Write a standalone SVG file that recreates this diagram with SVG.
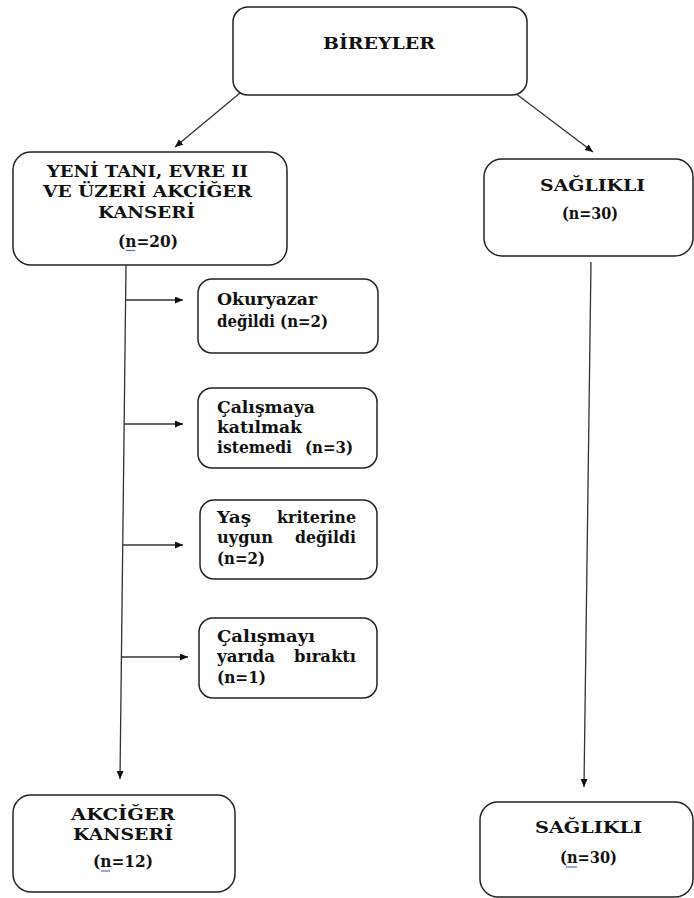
<svg xmlns="http://www.w3.org/2000/svg" width="694" height="898" viewBox="0 0 694 898">
<style>
.box{fill:#fff;stroke:#222;stroke-width:1.5}
.t{font-family:'DejaVu Serif',serif;font-weight:bold;font-size:16.5px;fill:#111}
.c{stroke:#333;stroke-width:1.3;fill:none}
.u{stroke:#4a72c8;stroke-width:1.2}
</style>
<defs>
<marker id="ah" markerUnits="userSpaceOnUse" markerWidth="9" markerHeight="8" refX="8" refY="3.5" orient="auto">
<path d="M0,0 L8,3.5 L0,7 z" fill="#111"/>
</marker>
</defs>
<rect width="694" height="898" fill="#fff"/>
<g id="connectors">
<line class="c" x1="240" y1="93" x2="175" y2="147" marker-end="url(#ah)"/>
<line class="c" x1="515" y1="93" x2="593" y2="152" marker-end="url(#ah)"/>
<line class="c" x1="126" y1="265" x2="120" y2="779" marker-end="url(#ah)"/>
<line class="c" x1="591" y1="262" x2="584" y2="787" marker-end="url(#ah)"/>
<line class="c" x1="125.6" y1="300" x2="183" y2="300" marker-end="url(#ah)"/>
<line class="c" x1="124.1" y1="424" x2="183" y2="424" marker-end="url(#ah)"/>
<line class="c" x1="122.7" y1="545" x2="183" y2="545" marker-end="url(#ah)"/>
<line class="c" x1="121.4" y1="657" x2="188" y2="657" marker-end="url(#ah)"/>
</g>
<g id="bireyler">
<rect class="box" x="233" y="7" width="294" height="88" rx="15"/>
<text class="t" x="323" y="49" textLength="112" lengthAdjust="spacingAndGlyphs">BİREYLER</text>
</g>
<g id="yeni-tani">
<rect class="box" x="13" y="152" width="274" height="113" rx="18"/>
<text class="t" x="47" y="177" textLength="201" lengthAdjust="spacingAndGlyphs">YENİ TANI, EVRE II</text>
<text class="t" x="43" y="197" textLength="209" lengthAdjust="spacingAndGlyphs">VE ÜZERİ AKCİĞER</text>
<text class="t" x="98" y="218" textLength="97" lengthAdjust="spacingAndGlyphs">KANSERİ</text>
<text class="t" x="118" y="247" textLength="60" lengthAdjust="spacingAndGlyphs">(n=20)</text>
<line class="u" x1="126" y1="250.5" x2="135" y2="250.5"/>
</g>
<g id="saglikli-top">
<rect class="box" x="484" y="159" width="209" height="97" rx="18"/>
<text class="t" x="540" y="191" textLength="105" lengthAdjust="spacingAndGlyphs">SAĞLIKLI</text>
<text class="t" x="562" y="219" textLength="56" lengthAdjust="spacingAndGlyphs">(n=30)</text>
</g>
<g id="okuryazar">
<rect class="box" x="198" y="279" width="180" height="74" rx="14"/>
<text class="t" x="217" y="305" textLength="100" lengthAdjust="spacingAndGlyphs">Okuryazar</text>
<text class="t" x="217" y="327" textLength="111" lengthAdjust="spacingAndGlyphs">değildi (n=2)</text>
</g>
<g id="katilmak">
<rect class="box" x="198" y="388" width="179" height="80" rx="14"/>
<text class="t" x="217" y="413" textLength="98" lengthAdjust="spacingAndGlyphs">Çalışmaya</text>
<text class="t" x="217" y="433" textLength="85" lengthAdjust="spacingAndGlyphs">katılmak</text>
<text class="t" x="217" y="453" textLength="75" lengthAdjust="spacingAndGlyphs">istemedi</text>
<text class="t" x="353" y="453" text-anchor="end" textLength="48" lengthAdjust="spacingAndGlyphs">(n=3)</text>
</g>
<g id="yas">
<rect class="box" x="200" y="500" width="177" height="79" rx="14"/>
<text class="t" x="217" y="523" textLength="34" lengthAdjust="spacingAndGlyphs">Yaş</text>
<text class="t" x="356" y="523" text-anchor="end" textLength="79" lengthAdjust="spacingAndGlyphs">kriterine</text>
<text class="t" x="217" y="543" textLength="56" lengthAdjust="spacingAndGlyphs">uygun</text>
<text class="t" x="356" y="543" text-anchor="end" textLength="61" lengthAdjust="spacingAndGlyphs">değildi</text>
<text class="t" x="217" y="564" textLength="48" lengthAdjust="spacingAndGlyphs">(n=2)</text>
</g>
<g id="yarida">
<rect class="box" x="199" y="618" width="178" height="80" rx="14"/>
<text class="t" x="217" y="642" textLength="98" lengthAdjust="spacingAndGlyphs">Çalışmayı</text>
<text class="t" x="217" y="662" textLength="58" lengthAdjust="spacingAndGlyphs">yarıda</text>
<text class="t" x="356" y="662" text-anchor="end" textLength="62" lengthAdjust="spacingAndGlyphs">bıraktı</text>
<text class="t" x="217" y="683" textLength="49" lengthAdjust="spacingAndGlyphs">(n=1)</text>
</g>
<g id="akciger">
<rect class="box" x="13" y="795" width="222" height="97" rx="18"/>
<text class="t" x="71" y="820" textLength="104" lengthAdjust="spacingAndGlyphs">AKCİĞER</text>
<text class="t" x="73" y="840" textLength="100" lengthAdjust="spacingAndGlyphs">KANSERİ</text>
<text class="t" x="93" y="867" textLength="60" lengthAdjust="spacingAndGlyphs">(n=12)</text>
<line class="u" x1="101" y1="871" x2="110" y2="871"/>
</g>
<g id="saglikli-bottom">
<rect class="box" x="480" y="802" width="213" height="95" rx="18"/>
<text class="t" x="535" y="833" textLength="107" lengthAdjust="spacingAndGlyphs">SAĞLIKLI</text>
<text class="t" x="560" y="863" textLength="57" lengthAdjust="spacingAndGlyphs">(n=30)</text>
<line class="u" x1="566" y1="867" x2="577" y2="867"/>
</g>
</svg>
